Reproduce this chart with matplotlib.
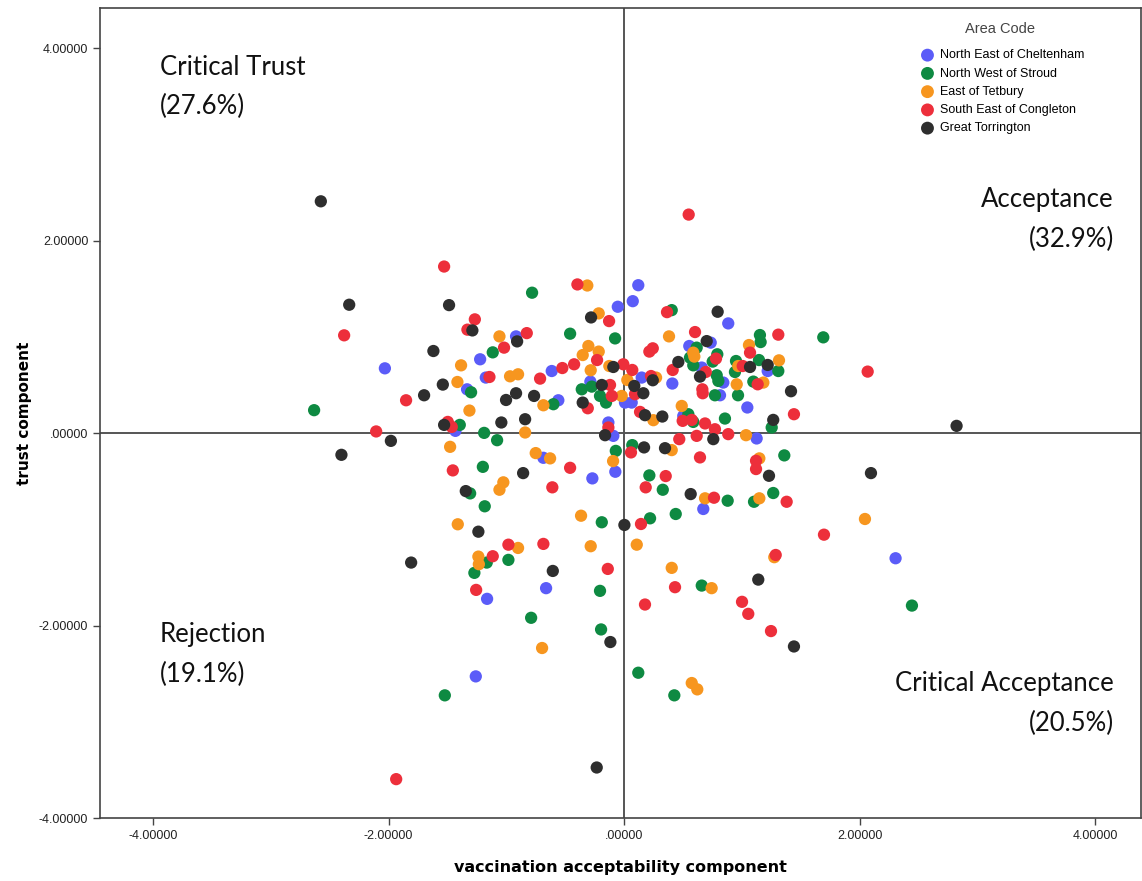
import matplotlib
matplotlib.use("Agg")
import matplotlib.pyplot as plt
from matplotlib.ticker import FuncFormatter

# component scores per area (vaccination acceptability, trust)
ne_cheltenham_x = [-0.917, -1.222, -2.031, -1.174, -1.333, -1.432, -1.163, -1.259, 0.121, 0.074,
                   -0.053, 0.885, 0.736, 0.554, 0.660, 0.150, 0.410, -0.286, 0.843, -0.614,
                   -0.558, 0.008, 0.065, 0.503, 0.815, -0.133, -0.091, -0.074, -0.685, -0.269,
                   0.673, -0.662, 1.220, 1.047, 1.126, 2.306]
ne_cheltenham_y = [1.006, 0.768, 0.674, 0.578, 0.456, 0.024, -1.722, -2.528, 1.538, 1.372,
                   1.314, 1.141, 0.941, 0.906, 0.682, 0.578, 0.516, 0.536, 0.526, 0.646,
                   0.342, 0.318, 0.318, 0.179, 0.394, 0.111, -0.028, -0.401, -0.256, -0.470,
                   -0.788, -1.611, 0.646, 0.267, -0.055, -1.300]

nw_stroud_x = [-1.115, -1.299, -2.632, -1.395, -1.188, -1.078, -1.199, -1.307, -1.183, -1.166,
               -0.982, -1.271, -1.522, -0.781, -0.458, -0.076, 0.405, 0.617, 0.588, 0.560,
               0.792, 0.753, 0.951, 0.942, 0.787, 0.801, -0.359, -0.274, -0.600, -0.204,
               -0.153, 0.546, 0.588, 0.772, 0.857, -0.070, 0.070, 0.215, 0.329, 0.880,
               0.439, 0.221, -0.189, 0.660, -0.204, -0.789, -0.195, 0.121, 0.427, 1.154,
               1.160, 1.692, 1.146, 1.310, 1.098, 0.968, 1.254, 1.361, 1.267, 1.104, 2.445]
nw_stroud_y = [0.840, 0.425, 0.239, 0.086, 0.003, -0.073, -0.350, -0.626, -0.760, -1.345,
               -1.317, -1.452, -2.725, 1.460, 1.034, 0.985, 1.279, 0.889, 0.705, 0.785,
               0.820, 0.744, 0.750, 0.636, 0.602, 0.543, 0.456, 0.484, 0.301, 0.387,
               0.318, 0.197, 0.117, 0.394, 0.152, -0.184, -0.124, -0.439, -0.588, -0.702,
               -0.840, -0.885, -0.926, -1.584, -1.639, -1.919, -2.040, -2.490, -2.725, 1.020,
               0.947, 0.996, 0.760, 0.646, 0.536, 0.394, 0.059, -0.231, -0.622, -0.713, -1.792]

e_tetbury_x = [-1.058, -1.384, -0.968, -0.900, -1.415, -1.313, -1.477, -1.025, -1.058, -1.412,
               -1.237, -1.233, -0.900, -0.312, -0.215, 0.382, 0.588, 0.597, -0.303, -0.351,
               -0.215, -0.283, -0.125, 0.970, 0.272, 0.028, 0.957, -0.685, -0.020, 0.249,
               0.490, -0.840, -0.093, 0.405, -0.750, -0.628, 0.688, -0.365, -0.283, 0.108,
               0.405, 0.744, -0.696, 0.575, 0.622, 1.061, 1.316, 1.183, 1.036, 1.149,
               1.149, 2.046, 1.276]
e_tetbury_y = [1.006, 0.705, 0.591, 0.612, 0.532, 0.235, -0.142, -0.511, -0.588, -0.947,
               -1.283, -1.362, -1.193, 1.535, 1.245, 1.006, 0.837, 0.796, 0.906, 0.812,
               0.848, 0.654, 0.698, 0.698, 0.578, 0.553, 0.508, 0.290, 0.387, 0.135,
               0.283, 0.007, -0.290, -0.176, -0.207, -0.262, -0.677, -0.858, -1.175, -1.159,
               -1.400, -1.611, -2.233, -2.597, -2.663, 0.916, 0.757, 0.526, -0.021, -0.262,
               -0.677, -0.892, -1.289]

se_congleton_x = [-1.528, -1.267, -1.330, -2.377, -1.019, -1.143, -1.851, -1.497, -1.463, -2.105,
                  -1.454, -0.982, -1.115, -1.256, -1.935, 0.549, -0.396, -0.127, 0.365, -0.826,
                  0.603, 0.244, 0.215, -0.229, -0.006, 0.070, -0.424, -0.524, -0.713, 0.413,
                  0.694, 0.781, 0.229, -0.119, 0.665, -0.308, -0.104, 0.093, 0.136, -0.133,
                  0.498, 0.575, 0.668, 0.688, 0.772, 0.617, 0.469, 0.885, 0.059, 0.645,
                  -0.458, -0.609, 0.354, 0.184, 0.764, 0.144, -0.685, -0.138, 0.433, 0.178,
                  1.002, 1.055, 1.248, 1.310, 1.070, 1.008, 1.135, 2.069, 1.443, 1.121,
                  1.121, 1.381, 1.698, 1.288]
se_congleton_y = [1.732, 1.183, 1.076, 1.017, 0.889, 0.584, 0.342, 0.117, 0.065, 0.018,
                  -0.387, -1.159, -1.279, -1.629, -3.596, 2.272, 1.546, 1.165, 1.258, 1.040,
                  1.051, 0.882, 0.848, 0.760, 0.716, 0.657, 0.716, 0.677, 0.567, 0.657,
                  0.636, 0.775, 0.594, 0.501, 0.456, 0.259, 0.387, 0.405, 0.221, 0.059,
                  0.128, 0.138, 0.415, 0.101, 0.041, -0.028, -0.062, -0.010, -0.200, -0.252,
                  -0.360, -0.563, -0.446, -0.563, -0.671, -0.944, -1.151, -1.411, -1.601, -1.781,
                  -1.753, -1.878, -2.057, 1.024, 0.837, 0.698, 0.508, 0.640, 0.197, -0.287,
                  -0.373, -0.713, -1.055, -1.266]

great_torrington_x = [-2.575, -2.334, -1.486, -1.288, -0.908, -1.619, -1.539, -1.698, -0.917, -1.002,
                      -1.042, -1.528, -1.980, -2.400, -0.857, -1.344, -1.237, -1.808, -0.280, 0.795,
                      0.702, 0.461, 0.645, -0.091, 0.244, -0.189, 0.087, -0.764, -0.840, -0.351,
                      0.164, 0.178, 0.325, -0.161, 0.758, 0.170, 0.348, 0.566, 0.003, -0.605,
                      -0.116, -0.232, 1.070, 1.220, 1.418, 1.267, 2.824, 1.231, 2.097, 1.140, 1.443]
great_torrington_y = [2.410, 1.335, 1.331, 1.068, 0.954, 0.854, 0.505, 0.394, 0.415, 0.345,
                      0.111, 0.086, -0.080, -0.225, -0.415, -0.602, -1.024, -1.345, 1.203, 1.262,
                      0.957, 0.740, 0.588, 0.688, 0.550, 0.501, 0.491, 0.387, 0.145, 0.318,
                      0.415, 0.187, 0.173, -0.021, -0.062, -0.148, -0.156, -0.633, -0.954, -1.432,
                      -2.171, -3.475, 0.688, 0.709, 0.436, 0.138, 0.076, -0.443, -0.415, -1.522, -2.217]

areas = ["North East of Cheltenham", "North West of Stroud", "East of Tetbury",
         "South East of Congleton", "Great Torrington"]
colors = ["#5b5cf8", "#0e8a42", "#f7961f", "#ed2f3b", "#2e2e2e"]
xs = [ne_cheltenham_x, nw_stroud_x, e_tetbury_x, se_congleton_x, great_torrington_x]
ys = [ne_cheltenham_y, nw_stroud_y, e_tetbury_y, se_congleton_y, great_torrington_y]

fig = plt.figure(figsize=(11.42, 8.81), dpi=100)
ax = fig.add_axes([0.0876, 0.0715, 0.9115, 0.9195])

ax.axvline(0, color="#555555", lw=1.4, zorder=1)
ax.axhline(0, color="#555555", lw=1.4, zorder=1)

for name, c, x, y in zip(areas, colors, xs, ys):
    ax.scatter(x, y, s=78, color=c, label=name, edgecolors="none", zorder=3)

ax.set_xlim(-4.45, 4.39)
ax.set_ylim(-3.98, 4.42)
ax.set_xticks([-4, -2, 0, 2, 4])
ax.set_yticks([-4, -2, 0, 2, 4])

fmt = FuncFormatter(lambda v, p: ("%.5f" % v).replace("0.", ".", 1) if abs(v) < 1 else "%.5f" % v)
ax.xaxis.set_major_formatter(fmt)
ax.yaxis.set_major_formatter(fmt)
ax.tick_params(direction="out", length=5, width=1, color="#444444", labelsize=9,
               labelcolor="#222222")
for lab in ax.get_xticklabels() + ax.get_yticklabels():
    lab.set_family("Liberation Sans")
for s in ax.spines.values():
    s.set_color("#444444")
    s.set_linewidth(1.2)

ax.set_xlabel("vaccination acceptability component", fontsize=11.5, fontweight="bold",
              family="DejaVu Sans", labelpad=13)
ax.set_ylabel("trust component", fontsize=11, fontweight="bold",
              family="DejaVu Sans", labelpad=5)

# quadrant labels
qfont = dict(fontsize=18.5, family="Lato", color="#111111", linespacing=1.72)
ax.text(-3.94, 3.60, "Critical Trust\n(27.6%)", ha="left", va="center", **qfont)
ax.text(4.16, 2.22, "Acceptance\n(32.9%)", ha="right", va="center", multialignment="right", **qfont)
ax.text(-3.94, -2.30, "Rejection\n(19.1%)", ha="left", va="center", **qfont)
ax.text(4.16, -2.81, "Critical Acceptance\n(20.5%)", ha="right", va="center",
        multialignment="right", **qfont)

leg = ax.legend(title="Area Code", loc="upper right", bbox_to_anchor=(0.954, 0.994),
                frameon=False, fontsize=9, title_fontsize=10.5, handletextpad=0.0,
                labelspacing=0.5, markerscale=1.05, borderaxespad=0.3)
leg.get_title().set_color("#444444")
leg.get_title().set_family("Liberation Sans")
leg._legend_box.sep = 10
for t in leg.get_texts():
    t.set_family("Liberation Sans")

fig.savefig("out.png", dpi=100)
